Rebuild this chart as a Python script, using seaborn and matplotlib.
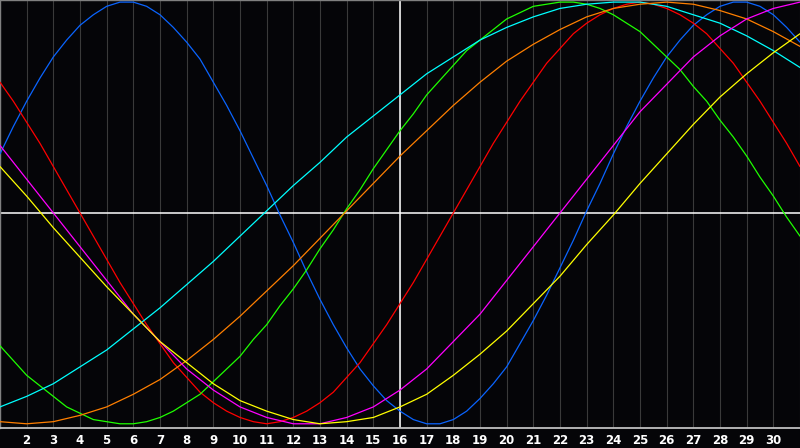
import numpy as np
import pandas as pd
import matplotlib
matplotlib.use("Agg")
import matplotlib.pyplot as plt
import seaborn as sns

# dias del mes; los ciclos cortos se leyeron cada medio dia
days = list(range(1, 32))
half_days = list(np.arange(1, 31.5, 0.5))

# valores (porcentaje, -100..100)
physical = [28, 41, 53, 64, 74, 82, 89, 94, 98, 100, 100, 98, 94, 88, 81, 73, 62, 51, 39, 26,
            13, -1, -14, -28, -41, -53, -64, -74, -82, -89, -94, -98, -100, -100, -98, -94,
            -88, -81, -73, -62, -51, -39, -26, -13, 1, 14, 28, 41, 53, 64, 74, 82, 89, 94,
            98, 100, 100, 98, 94, 88, 81]
emotional = [62, 53, 43, 33, 22, 11, 0, -11, -22, -33, -43, -53, -62, -71, -78, -85, -90,
             -94, -97, -99, -100, -99, -97, -94, -90, -85, -78, -71, -62, -53, -43, -33,
             -22, -11, 0, 11, 22, 33, 43, 53, 62, 71, 78, 85, 90, 94, 97, 99, 100, 99, 97,
             94, 90, 85, 78, 71, 62, 53, 43, 33, 22]
intellectual = [-63, -70, -77, -82, -87, -92, -95, -98, -99, -100, -100, -99, -97, -94, -90,
                -86, -80, -74, -68, -60, -53, -44, -36, -27, -17, -8, 2, 11, 21, 30, 39, 47,
                56, 63, 70, 77, 82, 87, 92, 95, 98, 99, 100, 100, 99, 97, 94, 90, 86, 80, 74,
                68, 60, 53, 44, 36, 27, 17, 8, -2, -11]
spiritual = [-92, -87, -81, -73, -65, -55, -45, -34, -23, -11, 1, 13, 24, 36, 46, 56,
             66, 74, 82, 88, 93, 97, 99, 100, 100, 98, 94, 90, 84, 77, 69]
awareness = [-99, -100, -99, -96, -92, -86, -79, -70, -60, -49, -37, -25, -12, 1, 14, 27,
             39, 51, 62, 72, 80, 87, 93, 97, 99, 100, 99, 96, 92, 86, 79]
intuitive = [32, 16, 0, -16, -32, -48, -61, -74, -84, -92, -97, -100, -100, -97, -92, -84,
             -74, -61, -48, -32, -16, 0, 16, 32, 48, 61, 74, 84, 92, 97, 100]
aesthetic = [22, 8, -7, -21, -35, -48, -61, -71, -81, -89, -94, -98, -100, -99, -97, -92,
             -86, -77, -67, -56, -43, -30, -15, -1, 14, 28, 42, 55, 66, 76, 85]

series = {
    "physical": (half_days, physical),
    "emotional": (half_days, emotional),
    "intellectual": (half_days, intellectual),
    "spiritual": (days, spiritual),
    "awareness": (days, awareness),
    "intuitive": (days, intuitive),
    "aesthetic": (days, aesthetic),
}
colors = {
    "physical": "#0a64ff",
    "emotional": "#ff0000",
    "intellectual": "#1eff00",
    "spiritual": "#00ffff",
    "awareness": "#ff7f00",
    "intuitive": "#ff00ff",
    "aesthetic": "#ffff00",
}
today = 16
tick_days = list(range(2, 31))

rows = []
for name, (xs, vals) in series.items():
    assert len(xs) == len(vals), name
    rows += [(d, name, v) for d, v in zip(xs, vals)]
df = pd.DataFrame(rows, columns=["day", "cycle", "value"])

sns.set_style("dark")
plt.rcParams["font.family"] = ["DejaVu Sans"]

fig = plt.figure(figsize=(8, 4.48), dpi=100, facecolor="#050508")
ax = fig.add_axes([0, 20 / 448, 1, 428 / 448])
ax.set_facecolor("#050508")

for d in days:
    ax.axvline(d, color="#3a3a3a", lw=0.8, zorder=1)
ax.axvline(today, color="white", lw=1.1, zorder=2)
ax.axhline(0, color="white", lw=1.1, zorder=2)

sns.lineplot(data=df, x="day", y="value", hue="cycle", palette=colors,
             linewidth=0.9, legend=False, ax=ax, zorder=3)

ax.set_xlim(1, 31)
ax.set_ylim(-102, 101)
ax.set_xticks(tick_days)
ax.set_xticklabels([str(d) for d in tick_days], color="white",
                   fontsize=8.5, fontweight="bold")
ax.tick_params(axis="x", length=0, pad=4)
ax.set_yticks([])
ax.set_xlabel("")
ax.set_ylabel("")
ax.grid(False)
for side in ["top", "left"]:
    ax.spines[side].set_color("#808080")
    ax.spines[side].set_linewidth(1)
ax.spines["bottom"].set_color("#c0c0c0")
ax.spines["bottom"].set_linewidth(1.3)
ax.spines["right"].set_visible(False)

fig.savefig("out.png", dpi=100, facecolor=fig.get_facecolor())
